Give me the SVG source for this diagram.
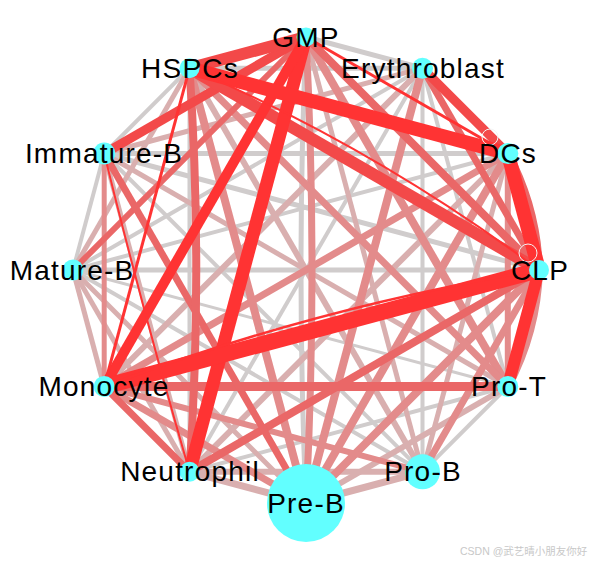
<svg xmlns="http://www.w3.org/2000/svg" width="592" height="562" viewBox="0 0 592 562">
<style>
.e line, .e path { fill: none; stroke-linecap: butt; }
.c0 { stroke: #D0CCCC; }
.c1 { stroke: #D9AFAF; }
.c2 { stroke: #E38B8B; }
.c3 { stroke: #EA6767; }
.c4 { stroke: #F34949; }
.c5 { stroke: #FF3333; }
.loop { fill: none; stroke: #F4F4F4; stroke-width: 1; }
.node circle { fill: #62FFFF; }
.node text { font-family: "Liberation Sans", Arial, sans-serif; font-size: 28px; letter-spacing: 1.2px; text-anchor: middle; fill: #000; }
.wm { font-family: "Liberation Sans", "Noto Sans CJK SC", sans-serif; font-size: 10.5px; fill: #C8C8C8; }
</style>
<rect width="592" height="562" fill="#FFFFFF"/>
<g id="connectors" class="e">
  <g class="c0">
    <line x1="306" y1="37" x2="422.5" y2="68.2" stroke-width="5"/>
    <line x1="422.5" y1="68.2" x2="507.8" y2="386.5" stroke-width="4"/>
    <line x1="422.5" y1="68.2" x2="422.5" y2="471.8" stroke-width="4"/>
    <line x1="422.5" y1="68.2" x2="189.5" y2="471.8" stroke-width="4"/>
    <line x1="422.5" y1="68.2" x2="73" y2="270" stroke-width="4"/>
    <line x1="422.5" y1="68.2" x2="189.5" y2="68.2" stroke-width="5"/>
    <line x1="507.8" y1="153.5" x2="73" y2="270" stroke-width="4"/>
    <line x1="507.8" y1="153.5" x2="104.2" y2="153.5" stroke-width="5"/>
    <line x1="539" y1="270" x2="73" y2="270" stroke-width="5"/>
    <line x1="539" y1="270" x2="104.2" y2="153.5" stroke-width="5"/>
    <line x1="507.8" y1="386.5" x2="422.5" y2="471.8" stroke-width="4"/>
    <line x1="507.8" y1="386.5" x2="189.5" y2="471.8" stroke-width="4"/>
    <line x1="507.8" y1="386.5" x2="73" y2="270" stroke-width="3"/>
    <line x1="422.5" y1="471.8" x2="73" y2="270" stroke-width="4"/>
    <line x1="422.5" y1="471.8" x2="104.2" y2="153.5" stroke-width="4"/>
    <line x1="73" y1="270" x2="104.2" y2="153.5" stroke-width="4"/>
    <line x1="104.2" y1="153.5" x2="189.5" y2="68.2" stroke-width="4"/>
    <path d="M306,37 Q296,270 306,503" stroke-width="5"/>
    <line x1="189.5" y1="68.2" x2="189.5" y2="471.8" stroke-width="4"/>
  </g>
  <g class="c1">
    <line x1="306" y1="37" x2="422.5" y2="471.8" stroke-width="5"/>
    <line x1="422.5" y1="68.2" x2="104.2" y2="386.5" stroke-width="6"/>
    <line x1="422.5" y1="68.2" x2="104.2" y2="153.5" stroke-width="5"/>
    <line x1="507.8" y1="153.5" x2="422.5" y2="471.8" stroke-width="5"/>
    <line x1="507.8" y1="153.5" x2="189.5" y2="471.8" stroke-width="6"/>
    <line x1="507.8" y1="386.5" x2="306" y2="503" stroke-width="6"/>
    <line x1="507.8" y1="386.5" x2="104.2" y2="153.5" stroke-width="5"/>
    <line x1="422.5" y1="471.8" x2="306" y2="503" stroke-width="7"/>
    <line x1="422.5" y1="471.8" x2="189.5" y2="471.8" stroke-width="6"/>
    <line x1="422.5" y1="471.8" x2="189.5" y2="68.2" stroke-width="6"/>
    <line x1="306" y1="503" x2="189.5" y2="471.8" stroke-width="7"/>
    <line x1="306" y1="503" x2="73" y2="270" stroke-width="5"/>
    <line x1="189.5" y1="471.8" x2="73" y2="270" stroke-width="5"/>
    <line x1="189.5" y1="471.8" x2="104.2" y2="153.5" stroke-width="5"/>
    <line x1="104.2" y1="386.5" x2="73" y2="270" stroke-width="5"/>
    <line x1="73" y1="270" x2="189.5" y2="68.2" stroke-width="5"/>
  </g>
  <g class="c2">
    <line x1="306" y1="37" x2="507.8" y2="386.5" stroke-width="8"/>
    <path d="M306,37 Q318,270 306,503" stroke-width="7"/>
    <line x1="507.8" y1="153.5" x2="507.8" y2="386.5" stroke-width="6"/>
    <line x1="507.8" y1="153.5" x2="104.2" y2="386.5" stroke-width="7"/>
    <line x1="539" y1="270" x2="422.5" y2="471.8" stroke-width="7"/>
    <line x1="539" y1="270" x2="306" y2="503" stroke-width="8"/>
    <line x1="507.8" y1="386.5" x2="189.5" y2="68.2" stroke-width="7"/>
    <line x1="422.5" y1="471.8" x2="104.2" y2="386.5" stroke-width="6"/>
    <line x1="306" y1="503" x2="104.2" y2="386.5" stroke-width="7"/>
    <line x1="104.2" y1="386.5" x2="104.2" y2="153.5" stroke-width="5"/>
    <line x1="422.5" y1="68.2" x2="306" y2="503" stroke-width="8"/>
    <line x1="507.8" y1="153.5" x2="306" y2="503" stroke-width="8"/>
    <line x1="306" y1="503" x2="189.5" y2="68.2" stroke-width="8"/>
    <path d="M539,270 Q536.9,331.9 507.8,386.5" stroke-width="8"/>
  </g>
  <g class="c3">
    <line x1="306" y1="37" x2="539" y2="270" stroke-width="8"/>
    <line x1="306" y1="37" x2="73" y2="270" stroke-width="6"/>
    <line x1="422.5" y1="68.2" x2="539" y2="270" stroke-width="7"/>
    <line x1="539" y1="270" x2="189.5" y2="471.8" stroke-width="8"/>
    <line x1="507.8" y1="386.5" x2="104.2" y2="386.5" stroke-width="9"/>
    <line x1="306" y1="503" x2="104.2" y2="153.5" stroke-width="7"/>
    <line x1="189.5" y1="471.8" x2="104.2" y2="386.5" stroke-width="7"/>
    <path d="M189.5,68.2 Q203,270 189.5,471.8" stroke-width="8"/>
    <path d="M507.8,153.5 Q536.9,208.1 539,270" stroke-width="8"/>
  </g>
  <g class="c4">
    <line x1="306" y1="37" x2="104.2" y2="153.5" stroke-width="9"/>
    <line x1="306" y1="37" x2="189.5" y2="68.2" stroke-width="12"/>
    <line x1="422.5" y1="68.2" x2="507.8" y2="153.5" stroke-width="9"/>
    <line x1="539" y1="270" x2="189.5" y2="68.2" stroke-width="12"/>
  </g>
  <g class="c5">
    <line x1="306" y1="37" x2="507.8" y2="153.5" stroke-width="3"/>
    <line x1="306" y1="37" x2="189.5" y2="471.8" stroke-width="13"/>
    <line x1="306" y1="37" x2="104.2" y2="386.5" stroke-width="10"/>
    <line x1="507.8" y1="153.5" x2="539" y2="270" stroke-width="14"/>
    <line x1="507.8" y1="153.5" x2="189.5" y2="68.2" stroke-width="14"/>
    <line x1="539" y1="270" x2="507.8" y2="386.5" stroke-width="12"/>
    <line x1="539" y1="270" x2="104.2" y2="386.5" stroke-width="16"/>
    <line x1="104.2" y1="386.5" x2="189.5" y2="68.2" stroke-width="3"/>
    <path d="M189.5,68.2 Q376.25,148.3 539,270" stroke-width="2"/>
    <path d="M539,270 Q315.9,307 104.2,386.5" stroke-width="2.5"/>
    <path d="M189.5,471.8 Q140,300 104.2,153.5" stroke-width="2"/>
  </g>
  <circle class="loop" cx="528" cy="253" r="9"/>
  <circle class="loop" cx="490" cy="137" r="8"/>
</g>
<g id="node-GMP" class="node"><circle cx="306" cy="37" r="9.5"/><text x="306" y="47">GMP</text></g>
<g id="node-Erythroblast" class="node"><circle cx="422.5" cy="68.2" r="10.5"/><text x="423" y="78">Erythroblast</text></g>
<g id="node-DCs" class="node"><circle cx="507.8" cy="153.5" r="10.5"/><text x="508" y="163">DCs</text></g>
<g id="node-CLP" class="node"><circle cx="539" cy="270" r="10"/><text x="540" y="280">CLP</text></g>
<g id="node-Pro-T" class="node"><circle cx="507.8" cy="386.5" r="10.5"/><text x="509" y="396">Pro-T</text></g>
<g id="node-Pro-B" class="node"><circle cx="422.5" cy="471.8" r="17.5"/><text x="423" y="481">Pro-B</text></g>
<g id="node-Pre-B" class="node"><circle cx="306" cy="503" r="39"/><text x="306" y="513">Pre-B</text></g>
<g id="node-Neutrophil" class="node"><circle cx="189.5" cy="471.8" r="10"/><text x="190" y="481">Neutrophil</text></g>
<g id="node-Monocyte" class="node"><circle cx="104.2" cy="386.5" r="10.5"/><text x="104" y="396">Monocyte</text></g>
<g id="node-Mature-B" class="node"><circle cx="73" cy="270" r="10.5"/><text x="72" y="280">Mature-B</text></g>
<g id="node-Immature-B" class="node"><circle cx="104.2" cy="153.5" r="11"/><text x="104" y="163">Immature-B</text></g>
<g id="node-HSPCs" class="node"><circle cx="189.5" cy="68.2" r="10"/><text x="190" y="78">HSPCs</text></g>
<text class="wm" x="460" y="555">CSDN @武艺晴小朋友你好</text>
</svg>
